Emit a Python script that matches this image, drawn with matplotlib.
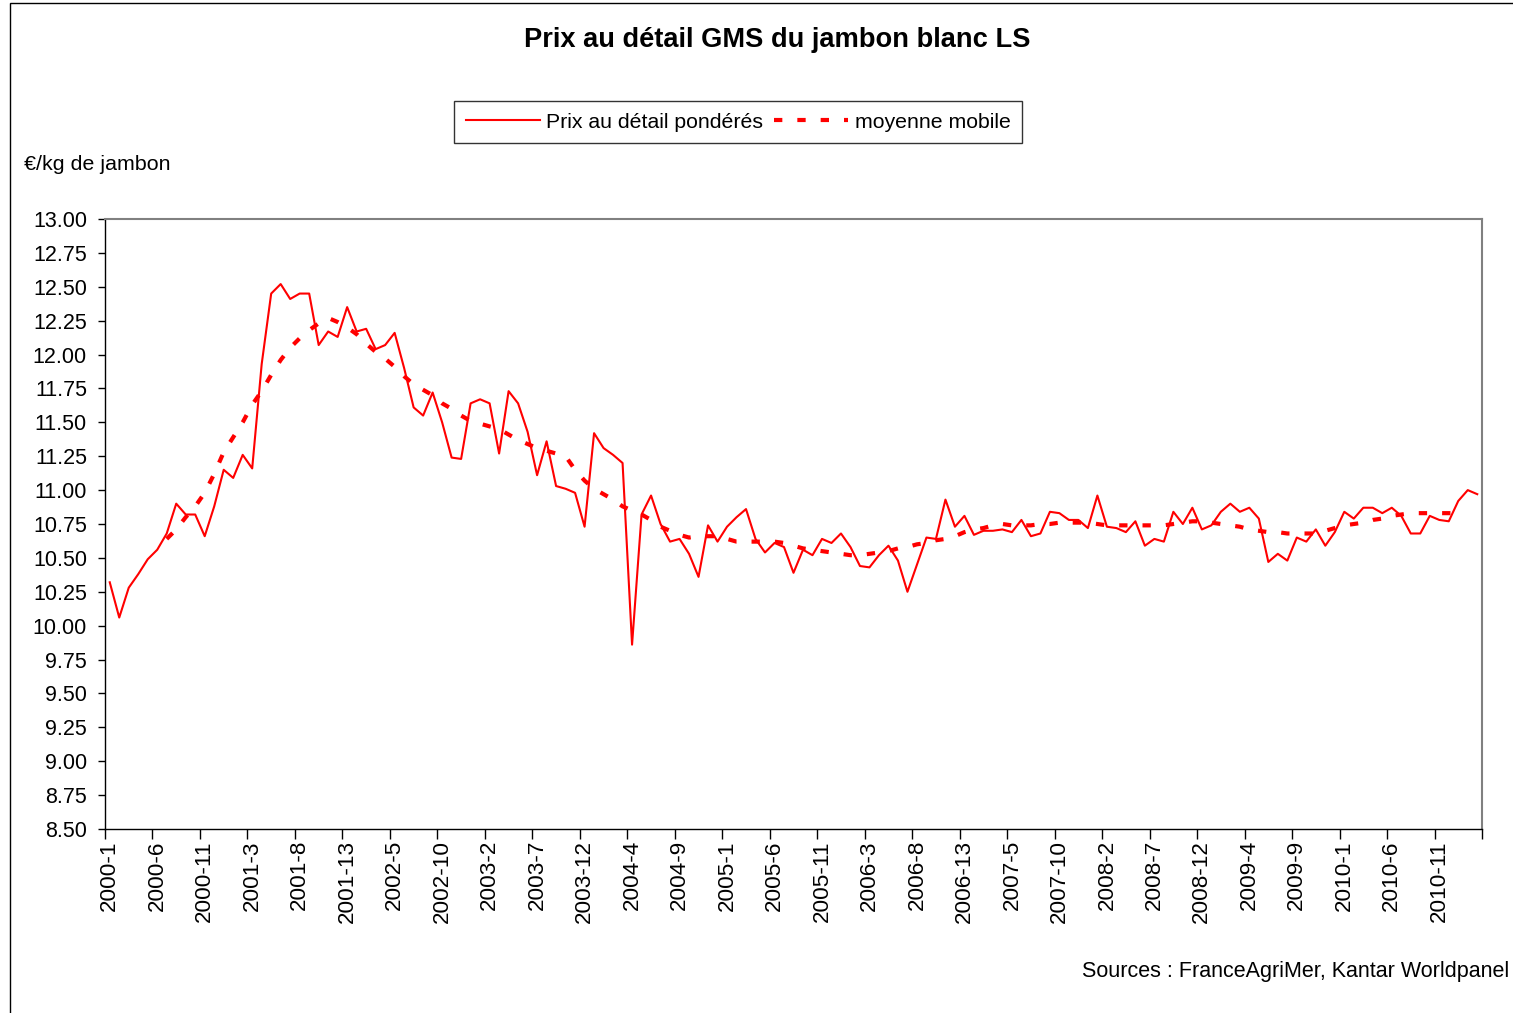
import numpy as np
import matplotlib
matplotlib.use("Agg")
import matplotlib.pyplot as plt
from matplotlib.patches import Rectangle

plt.rcParams['font.family'] = ['Liberation Sans', 'DejaVu Sans']

# prix au détail pondérés, périodes 4 semaines (13 / an), 2000-1 -> 2011-2
prix = [
    10.32, 10.06, 10.28, 10.38, 10.49, 10.56, 10.68, 10.90, 10.82, 10.82, 10.66, 10.88, 11.15,  # 2000
    11.09, 11.26, 11.16, 11.93, 12.45, 12.52, 12.41, 12.45, 12.45, 12.07, 12.17, 12.13, 12.35,  # 2001
    12.17, 12.19, 12.04, 12.07, 12.16, 11.90, 11.61, 11.55, 11.72, 11.50, 11.24, 11.23, 11.64,  # 2002
    11.67, 11.64, 11.27, 11.73, 11.64, 11.43, 11.11, 11.36, 11.03, 11.01, 10.98, 10.73, 11.42,  # 2003
    11.31, 11.26, 11.20, 9.86, 10.82, 10.96, 10.75, 10.62, 10.64, 10.53, 10.36, 10.74, 10.62,   # 2004
    10.73, 10.80, 10.86, 10.64, 10.54, 10.61, 10.58, 10.39, 10.56, 10.52, 10.64, 10.61, 10.68,  # 2005
    10.58, 10.44, 10.43, 10.52, 10.59, 10.48, 10.25, 10.45, 10.65, 10.64, 10.93, 10.73, 10.81,  # 2006
    10.67, 10.70, 10.70, 10.71, 10.69, 10.78, 10.66, 10.68, 10.84, 10.83, 10.78, 10.78, 10.72,  # 2007
    10.96, 10.73, 10.72, 10.69, 10.77, 10.59, 10.64, 10.62, 10.84, 10.75, 10.87, 10.71, 10.74,  # 2008
    10.84, 10.90, 10.84, 10.87, 10.79, 10.47, 10.53, 10.48, 10.65, 10.62, 10.71, 10.59, 10.69,  # 2009
    10.84, 10.79, 10.87, 10.87, 10.83, 10.87, 10.81, 10.68, 10.68, 10.81, 10.78, 10.77, 10.92,  # 2010
    11.00, 10.97,                                                                              # 2011
]

ma_start = 6
moyenne = [
    10.64, 10.71, 10.80, 10.88, 10.98, 11.12, 11.28,
    11.39, 11.50, 11.63, 11.73, 11.85, 11.96, 12.05, 12.12, 12.18, 12.23, 12.27, 12.24, 12.20,
    12.15, 12.08, 12.02, 11.97, 11.91, 11.84, 11.78, 11.74, 11.70, 11.64, 11.60, 11.55, 11.51,
    11.49, 11.47, 11.45, 11.41, 11.37, 11.34, 11.31, 11.29, 11.27, 11.25, 11.15, 11.07, 11.01,
    10.97, 10.93, 10.88, 10.85, 10.82, 10.78, 10.73, 10.70, 10.67, 10.65, 10.66, 10.66, 10.66,
    10.64, 10.62, 10.62, 10.62, 10.62, 10.62, 10.61, 10.59, 10.57, 10.56, 10.55, 10.54, 10.53,
    10.52, 10.52, 10.53, 10.54, 10.55, 10.57, 10.58, 10.60, 10.61, 10.63, 10.64, 10.66, 10.69,
    10.71, 10.72, 10.74, 10.75, 10.74, 10.74, 10.74, 10.75, 10.75, 10.76, 10.76, 10.76, 10.76,
    10.75, 10.74, 10.74, 10.74, 10.74, 10.74, 10.74, 10.74, 10.75, 10.76, 10.77, 10.77, 10.76,
    10.75, 10.74, 10.73, 10.71, 10.70, 10.69, 10.69, 10.68, 10.68, 10.68, 10.68, 10.70, 10.72,
    10.74, 10.75, 10.76, 10.78, 10.79, 10.81, 10.82, 10.83, 10.83, 10.83, 10.83, 10.83, 10.83,
]

tick_labels = [
    "2000-1", "2000-6", "2000-11", "2001-3", "2001-8", "2001-13", "2002-5", "2002-10",
    "2003-2", "2003-7", "2003-12", "2004-4", "2004-9", "2005-1", "2005-6", "2005-11",
    "2006-3", "2006-8", "2006-13", "2007-5", "2007-10", "2008-2", "2008-7", "2008-12",
    "2009-4", "2009-9", "2010-1", "2010-6", "2010-11",
]
label_step = 5

fig = plt.figure(figsize=(15.13, 10.13), dpi=100)
W, H = 1513, 1013

# cadre extérieur (zone de graphique Excel)
fig.patches.append(Rectangle((10 / W, -0.05), 1.2, 1 - 3 / H + 0.05, transform=fig.transFigure,
                             fill=False, edgecolor='black', linewidth=1.0))

ax = fig.add_axes([105 / W, 1 - 829 / H, (1482 - 105) / W, (829 - 219) / H])

x = np.arange(len(prix))
x_ma = np.arange(ma_start, ma_start + len(moyenne))

ax.plot(x, prix, color='#ff0000', linewidth=1.5, label='Prix au détail pondérés', zorder=3)
ax.plot(x_ma, moyenne, color='#ff0000', linewidth=3.0, linestyle=(0, (2.0, 3.6)),
        label='moyenne mobile', zorder=2)

ax.set_xlim(-0.5, len(prix) - 0.5)
ax.set_ylim(8.5, 13.0)
ax.set_yticks(np.arange(8.5, 13.01, 0.25))
ax.set_yticklabels([f"{v:.2f}" for v in np.arange(8.5, 13.01, 0.25)], fontsize=15.5)

lab_pos = np.arange(len(tick_labels)) * label_step
ax.set_xticks(lab_pos)
ax.set_xticklabels(tick_labels, rotation=90, fontsize=16.2)
ax.set_xticks(np.arange(-0.5, len(prix), label_step), minor=True)
ax.tick_params(axis='x', which='major', length=0, pad=8)
ax.tick_params(axis='x', which='minor', length=7, width=1.0, direction='out', color='black')
ax.tick_params(axis='y', length=5, width=1.0, direction='out', color='black', pad=8)

for s in ['left', 'bottom']:
    ax.spines[s].set_color('black')
    ax.spines[s].set_linewidth(1.0)
for s in ['top', 'right']:
    ax.spines[s].set_color('#808080')
    ax.spines[s].set_linewidth(1.5)

fig.text(777 / W, 1 - 40 / H, "Prix au détail GMS du jambon blanc LS", ha='center', va='center',
         fontsize=19.6, fontweight='bold')
fig.text(24 / W, 1 - 165 / H, "€/kg de jambon", ha='left', va='center', fontsize=15.4)
fig.text(1509 / W, 1 - 971 / H, "Sources : FranceAgriMer, Kantar Worldpanel", ha='right', va='center',
         fontsize=15.5)

leg = fig.legend(loc='center', bbox_to_anchor=(738 / W, 1 - 122 / H), ncol=2, fontsize=15.3,
                 frameon=True, fancybox=False, edgecolor='black', handlelength=3.5,
                 handletextpad=0.3, columnspacing=0.5, borderpad=0.55)
leg.get_frame().set_linewidth(1.0)

fig.savefig("out.png", dpi=100)
